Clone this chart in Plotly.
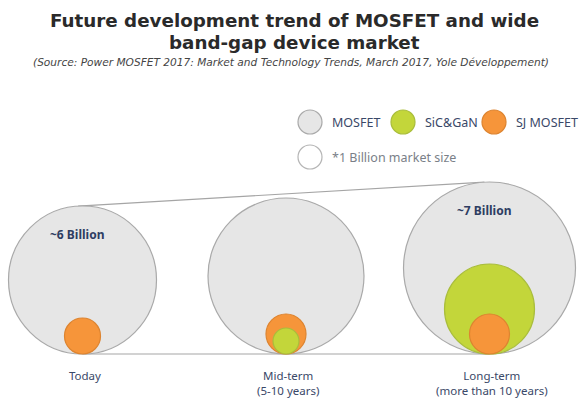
import math
import plotly.graph_objects as go

# ---- data (bubble diameters, relative size units) ----
categories = ["Today", "Mid-term<br>(5-10 years)", "Long-term<br>(more than 10 years)"]
mosfet_d = [148, 156, 172]
sicgan_d = [0, 26, 90]
sj_d = [36, 40, 40]
market_labels = ["~6 Billion", "", "~7 Billion"]
legend_names = ["MOSFET", "SiC&GaN", "SJ MOSFET"]
legend_note = "*1 Billion market size"
title_lines = ["Future development trend of MOSFET and wide", "band-gap device market"]
source_text = "(Source: Power MOSFET 2017: Market and Technology Trends, March 2017, Yole Développement)"

# ---- styling / layout ----
W, H = 584, 402
baseline = 48
x_first, x_step = 82.5, 203.5
fills = {"MOSFET": "#e6e6e6", "SiC&GaN": "#c3d63a", "SJ MOSFET": "#f6953a"}
edges = {"MOSFET": "#a9a9a9", "SiC&GaN": "#a9bd3c", "SJ MOSFET": "#dd8430"}
text_col = "#3a4868"
font = "Noto Sans"

xs = [x_first + i * x_step for i in range(len(categories))]

shapes = []
annotations = []


def circle(xc, yb, d, name):
    return dict(type="circle", xref="x", yref="y",
                x0=xc - d / 2, x1=xc + d / 2, y0=yb, y1=yb + d,
                fillcolor=fills[name], line=dict(color=edges[name], width=1.2))


# tangent lines between first and last MOSFET bubble
r1, r2 = mosfet_d[0] / 2, mosfet_d[-1] / 2
c1 = (xs[0], baseline + r1)
c2 = (xs[-1], baseline + r2)
dx, dy = c2[0] - c1[0], c2[1] - c1[1]
L = math.hypot(dx, dy)
u = (dx / L, dy / L)


def reflect(p, c):
    vx, vy = p[0] - c[0], p[1] - c[1]
    dot = vx * u[0] + vy * u[1]
    return (c[0] + 2 * dot * u[0] - vx, c[1] + 2 * dot * u[1] - vy)


t1 = reflect((xs[0], baseline), c1)
t2 = reflect((xs[-1], baseline), c2)
line_style = dict(color="#a5a5a5", width=1.2)
shapes.append(dict(type="line", xref="x", yref="y", x0=t1[0], y0=t1[1], x1=t2[0], y1=t2[1], line=line_style))
shapes.append(dict(type="line", xref="x", yref="y", x0=xs[0], y0=baseline, x1=xs[-1], y1=baseline, line=line_style))

for i, xc in enumerate(xs):
    shapes.append(circle(xc, baseline, mosfet_d[i], "MOSFET"))
    inner = [(sicgan_d[i], "SiC&GaN"), (sj_d[i], "SJ MOSFET")]
    inner.sort(key=lambda t: -t[0])
    for d, name in inner:
        if d > 0:
            shapes.append(circle(xc, baseline, d, name))
    if market_labels[i]:
        annotations.append(dict(x=xc - 6, y=baseline + mosfet_d[i] - 28, xref="x", yref="y",
                                text="<b>%s</b>" % market_labels[i], showarrow=False,
                                font=dict(family=font, size=12, color="#2e3d62")))
    annotations.append(dict(x=xc + 2, y=baseline - 12, xref="x", yref="y", yanchor="top",
                            text=categories[i], showarrow=False,
                            font=dict(family=font, size=11.5, color=text_col)))

# legend (custom)
leg_y1 = H - 122
leg_y2 = H - 157
leg_d = 24
leg_x = [310, 403, 494]
for xc, name in zip(leg_x, legend_names):
    shapes.append(circle(xc, leg_y1 - leg_d / 2, leg_d, name))
    annotations.append(dict(x=xc + 20, y=leg_y1, xref="x", yref="y", xanchor="left",
                            text=name, showarrow=False,
                            font=dict(family=font, size=12.5, color=text_col)))
shapes.append(dict(type="circle", xref="x", yref="y", x0=leg_x[0] - leg_d / 2, x1=leg_x[0] + leg_d / 2,
                   y0=leg_y2 - leg_d / 2, y1=leg_y2 + leg_d / 2, fillcolor="#ffffff",
                   line=dict(color="#b5b5b5", width=1.2)))
annotations.append(dict(x=leg_x[0] + 20, y=leg_y2, xref="x", yref="y", xanchor="left",
                        text=legend_note, showarrow=False,
                        font=dict(family=font, size=12.5, color="#7a7f88")))

# titles
annotations.append(dict(x=294, y=H - 20, xref="x", yref="y", text="<b>%s</b>" % title_lines[0],
                        showarrow=False, font=dict(family="DejaVu Sans", size=18.3, color="#2a2a2a")))
annotations.append(dict(x=294, y=H - 42, xref="x", yref="y", text="<b>%s</b>" % title_lines[1],
                        showarrow=False, font=dict(family="DejaVu Sans", size=18.3, color="#2a2a2a")))
annotations.append(dict(x=291, y=H - 62, xref="x", yref="y", text="<i>%s</i>" % source_text,
                        showarrow=False, font=dict(family="DejaVu Sans", size=10.6, color="#444444")))

fig = go.Figure()
fig.add_trace(go.Scatter(x=xs, y=[baseline] * len(xs), mode="markers",
                         marker=dict(size=1, opacity=0), hoverinfo="skip", showlegend=False))
fig.update_layout(
    width=W, height=H, margin=dict(l=0, r=0, t=0, b=0),
    paper_bgcolor="white", plot_bgcolor="white",
    xaxis=dict(range=[0, W], visible=False, fixedrange=True),
    yaxis=dict(range=[0, H], visible=False, fixedrange=True),
    shapes=shapes, annotations=annotations, showlegend=False,
)
fig.write_html("out.html")
